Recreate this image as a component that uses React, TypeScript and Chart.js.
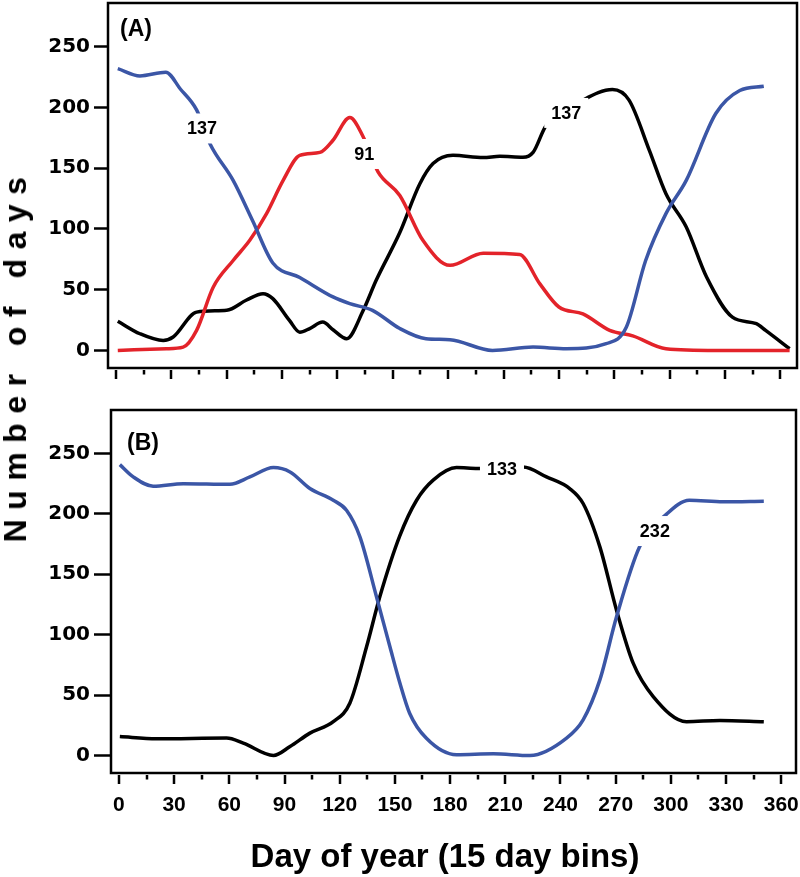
import React, { useEffect, useRef } from "react";
import { Chart, registerables } from "chart.js";

Chart.register(...registerables);

const BLUE = "#3b56a6";
const RED = "#e3232a";
const BLACK = "#000000";

// ---------- Panel A ----------
const blueADays = [1, 13, 27, 35, 43.7, 51, 63.5, 74, 85, 99.6, 117.6, 126.7, 139, 153.8, 168, 181, 204, 226, 244, 265.6, 276.5, 287, 298, 309, 325, 338, 351];
const blueAVals = [232, 226, 229, 215, 198, 170, 140, 107, 72, 60, 44, 38.5, 33, 18, 9.6, 8.8, 0, 2.7, 1.4, 5.5, 19, 74, 112.6, 140, 195, 214, 217.5];

const redADays = [1, 27.4, 36.4, 43.7, 52.7, 63.5, 72.5, 81.6, 90.6, 99.6, 110.5, 117.6, 126.7, 134, 142, 153.8, 166.3, 181, 199, 218.7, 229.6, 240, 253, 267.5, 280, 298, 325, 365];
const redAVals = [0, 1.4, 2.7, 16.5, 52, 74, 90.6, 112.6, 140, 160.6, 163, 173, 191.7, 175.7, 146.9, 127.5, 90.6, 70, 80, 79, 55, 35.7, 30, 16.5, 12, 1.4, 0, 0];

const blackADays = [1, 13, 25.6, 31, 43.7, 60, 70.8, 79.7, 85, 94, 99.6, 105, 112, 117.8, 125, 134, 141, 153.8, 164.6, 171.8, 182.6, 199, 208, 220.5, 226, 233, 253, 269, 278, 289, 298, 309, 320, 334, 347, 352, 365];
const blackAVals = [24, 13.7, 8.2, 11, 31.5, 33, 41.5, 46.7, 42.6, 24.7, 15, 18, 23.3, 16.8, 9.6, 33, 57.7, 97, 137, 153.8, 160.6, 158.7, 159.8, 159, 163, 185, 206, 214.7, 206, 164.7, 129, 101.6, 60.4, 27.4, 22, 16.5, 1.4];

// ---------- Panel B ----------
const blueBDays = [0.5, 7.8, 18.6, 35, 60.3, 71.2, 84, 93, 103.8, 116.5, 123.7, 131, 140, 147.3, 152.7, 158, 167, 183.5, 203.5, 223.4, 243.3, 252.3, 261.4, 270.5, 283, 297.8, 310, 328.4, 350.5];
const blueBVals = [240.8, 230.6, 222.9, 225, 224.5, 230.6, 238.3, 234.7, 221, 211.3, 203, 181, 131.4, 90, 60, 35, 14.4, 0.6, 1.4, 0, 14.4, 29.5, 62.6, 115, 172.7, 200, 211.3, 210, 210.5];

const blackBDays = [0.5, 20.5, 58.5, 67.6, 84, 93, 103.8, 116.5, 125.5, 134.6, 141.8, 152.7, 161.8, 170.8, 183.5, 195, 219.7, 232.4, 245, 252.3, 261.4, 270.5, 279.5, 290.4, 308.5, 326.6, 350.5];
const blackBVals = [15.7, 13.8, 14.4, 10.2, 0, 7.4, 18.5, 28, 43.3, 90, 131.4, 182, 211.3, 227.9, 238.3, 237.5, 238.8, 230.6, 221, 208.6, 172.7, 120, 76.4, 48.8, 28, 29, 28];

// ---------- Axis ticks ----------
const xTickValues = [0, 15, 30, 45, 60, 75, 90, 105, 120, 135, 150, 165, 180, 195, 210, 225, 240, 255, 270, 285, 300, 315, 330, 345, 360];
const yTickValues = [0, 50, 100, 150, 200, 250];

// ---------- In-line labels (text, day, value) ----------
const labelsAText = ["137", "91", "137"];
const labelsADays = [46.6, 134.5, 244];
const labelsAVals = [182.7, 161.7, 195.5];
const labelsBText = ["133", "232"];
const labelsBDays = [208.2, 291.3];
const labelsBVals = [236.8, 185.8];

const panelATag = "(A)";
const panelBTag = "(B)";
const yTitle = "Number of days";
const xTitle = "Day of year (15 day bins)";

type Series = { days: number[]; vals: number[]; color: string };
type PanelCfg = {
  series: Series[];
  labelText: string[];
  labelDays: number[];
  labelVals: number[];
  tag: string;
  tagDx: number;
  tagDy: number;
  padding: { left: number; right: number; top: number; bottom: number };
  yWidth: number;
  xHeight: number;
  xMin: number;
  xMax: number;
  yTickLen: number;
  showXLabels: boolean;
  xLabelPad: number;
};

function pts(days: number[], vals: number[]) {
  return days.map((d, i) => ({ x: d, y: vals[i] }));
}

function panelPlugin(cfg: PanelCfg) {
  return {
    id: "panelDecor",
    afterDatasetsDraw(chart: any) {
      const ctx = chart.ctx as CanvasRenderingContext2D;
      const { left, right, top, bottom } = chart.chartArea;
      const xs = chart.scales.x;
      const ys = chart.scales.y;
      ctx.save();
      // in-line labels with white boxes
      ctx.font = 'bold 18px "Liberation Sans", Arial, sans-serif';
      ctx.textAlign = "center";
      ctx.textBaseline = "middle";
      cfg.labelText.forEach((t, i) => {
        const px = xs.getPixelForValue(cfg.labelDays[i]);
        const py = ys.getPixelForValue(cfg.labelVals[i]);
        const w = ctx.measureText(t).width;
        ctx.fillStyle = "#ffffff";
        ctx.fillRect(px - w / 2 - 7, py - 15, w + 14, 30);
        ctx.fillStyle = "#000000";
        ctx.fillText(t, px, py + 1);
      });
      // frame
      ctx.strokeStyle = "#000000";
      ctx.lineWidth = 2.5;
      ctx.strokeRect(left, top, right - left, bottom - top);
      // x tick marks (major every 30, minor every 15)
      ctx.lineWidth = 2.5;
      ctx.beginPath();
      xTickValues.forEach((v) => {
        const px = Math.round(xs.getPixelForValue(v));
        const major = v % 30 === 0;
        ctx.moveTo(px, bottom + 2);
        ctx.lineTo(px, bottom + 2 + (major ? 9 : 4.5));
      });
      ctx.stroke();
      // panel tag
      ctx.font = 'bold 23px "Liberation Sans", Arial, sans-serif';
      ctx.textAlign = "left";
      ctx.textBaseline = "middle";
      ctx.fillStyle = "#000000";
      ctx.fillText(cfg.tag, left + cfg.tagDx, top + cfg.tagDy);
      ctx.restore();
    },
  };
}

function buildChart(canvas: HTMLCanvasElement, cfg: PanelCfg) {
  return new Chart(canvas, {
    type: "line",
    data: {
      datasets: cfg.series.map((s) => ({
        data: pts(s.days, s.vals),
        borderColor: s.color,
        backgroundColor: s.color,
        borderWidth: 3.5,
        pointRadius: 0,
        cubicInterpolationMode: "monotone" as const,
        fill: false,
      })),
    },
    options: {
      animation: false,
      responsive: false,
      events: [],
      layout: { padding: cfg.padding },
      plugins: {
        legend: { display: false },
        tooltip: { enabled: false },
        title: { display: false },
      },
      scales: {
        x: {
          type: "linear",
          min: cfg.xMin,
          max: cfg.xMax,
          afterFit: (s: any) => {
            s.height = cfg.xHeight;
            s.paddingLeft = 0;
            s.paddingRight = 0;
          },
          afterBuildTicks: (s: any) => {
            s.ticks = xTickValues.map((v) => ({ value: v }));
          },
          grid: { display: false, drawTicks: false },
          border: { display: false },
          ticks: {
            display: cfg.showXLabels,
            autoSkip: false,
            maxRotation: 0,
            minRotation: 0,
            padding: cfg.xLabelPad,
            color: "#000000",
            font: { family: '"Liberation Sans", Arial, sans-serif', weight: "bold", size: 21 },
            callback: (v: any) => (Number(v) % 30 === 0 ? String(v) : ""),
          },
        },
        y: {
          type: "linear",
          min: -14.5,
          max: 286,
          afterFit: (s: any) => {
            s.width = cfg.yWidth;
            s.paddingTop = 0;
            s.paddingBottom = 0;
          },
          afterBuildTicks: (s: any) => {
            s.ticks = yTickValues.map((v) => ({ value: v }));
          },
          grid: {
            display: true,
            drawOnChartArea: false,
            drawTicks: true,
            tickLength: cfg.yTickLen,
            tickColor: "#000000",
            tickWidth: 2.5,
          },
          border: { display: false },
          ticks: {
            padding: 4,
            color: "#000000",
            font: { family: '"DejaVu Sans", sans-serif', weight: "bold", size: 20 },
          },
        },
      },
    } as any,
    plugins: [panelPlugin(cfg)],
  });
}

const cfgA: PanelCfg = {
  series: [
    { days: blueADays, vals: blueAVals, color: BLUE },
    { days: redADays, vals: redAVals, color: RED },
    { days: blackADays, vals: blackAVals, color: BLACK },
  ],
  labelText: labelsAText,
  labelDays: labelsADays,
  labelVals: labelsAVals,
  tag: panelATag,
  tagDx: 12,
  tagDy: 27,
  padding: { left: 0, right: 3, top: 3, bottom: 0 },
  yWidth: 108,
  xHeight: 27,
  xMin: -4.3,
  xMax: 369,
  yTickLen: 14,
  showXLabels: false,
  xLabelPad: 0,
};

const cfgB: PanelCfg = {
  series: [
    { days: blueBDays, vals: blueBVals, color: BLUE },
    { days: blackBDays, vals: blackBVals, color: BLACK },
  ],
  labelText: labelsBText,
  labelDays: labelsBDays,
  labelVals: labelsBVals,
  tag: panelBTag,
  tagDx: 16,
  tagDy: 34,
  padding: { left: 0, right: 4, top: 15, bottom: 0 },
  yWidth: 111,
  xHeight: 104,
  xMin: -4.3,
  xMax: 368,
  yTickLen: 17,
  showXLabels: true,
  xLabelPad: 20,
};

export default function App() {
  const refA = useRef<HTMLCanvasElement | null>(null);
  const refB = useRef<HTMLCanvasElement | null>(null);

  useEffect(() => {
    if (!refA.current || !refB.current) return;
    const a = buildChart(refA.current, cfgA);
    const b = buildChart(refB.current, cfgB);
    return () => {
      a.destroy();
      b.destroy();
    };
  }, []);

  return (
    <div style={{ position: "absolute", left: 0, top: 0, width: 800, height: 877, background: "#ffffff", overflow: "hidden" }}>
      <canvas ref={refA} width={800} height={395} style={{ position: "absolute", left: 0, top: 0, width: 800, height: 395, display: "block" }} />
      <canvas ref={refB} width={800} height={482} style={{ position: "absolute", left: 0, top: 395, width: 800, height: 482, display: "block" }} />
      <div
        style={{
          position: "absolute",
          left: 14.8,
          top: 355,
          transform: "translate(-50%, -50%) rotate(-90deg)",
          font: 'bold 32px "Liberation Sans", Arial, sans-serif',
          lineHeight: "32px",
          letterSpacing: "9.5px",
          whiteSpace: "nowrap",
          color: "#000",
        }}
      >
        {yTitle}
      </div>
      <div
        style={{
          position: "absolute",
          left: 445,
          top: 839,
          transform: "translateX(-50%)",
          font: 'bold 33px "Liberation Sans", Arial, sans-serif',
          lineHeight: "33px",
          whiteSpace: "nowrap",
          color: "#000",
        }}
      >
        {xTitle}
      </div>
    </div>
  );
}
